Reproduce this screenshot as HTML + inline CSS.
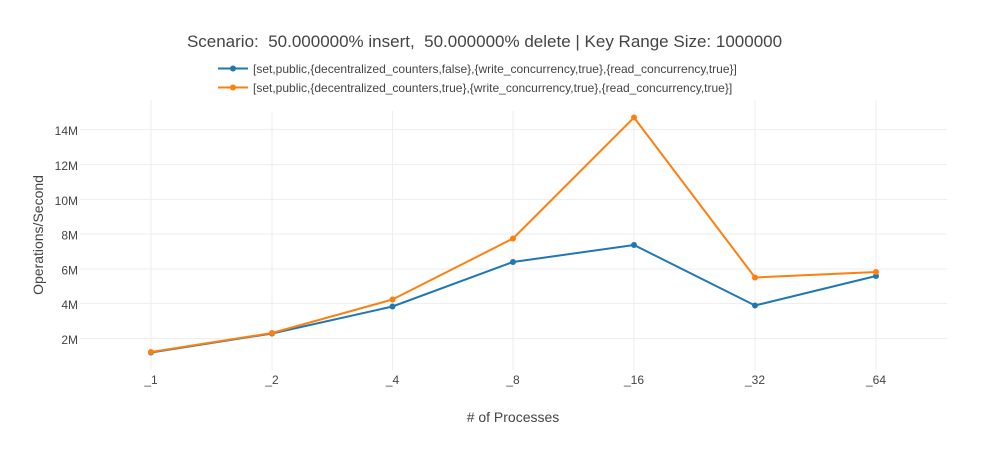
<!DOCTYPE html>
<html><head><meta charset="utf-8"><style>
html,body{margin:0;padding:0;background:#fff;}
svg{display:block;font-family:"Liberation Sans",Arial,sans-serif;}
</style></head><body>
<svg width="991" height="450" viewBox="0 0 991 450" xmlns="http://www.w3.org/2000/svg">
<rect width="991" height="450" fill="#fff"/>
<g stroke="#eeeeee" stroke-width="1">
<line x1="151" y1="100" x2="151" y2="370"/>
<line x1="272" y1="100" x2="272" y2="370"/>
<line x1="392.5" y1="100" x2="392.5" y2="370"/>
<line x1="513" y1="100" x2="513" y2="370"/>
<line x1="634" y1="100" x2="634" y2="370"/>
<line x1="755" y1="100" x2="755" y2="370"/>
<line x1="876" y1="100" x2="876" y2="370"/>
<line x1="80" y1="129.5" x2="947" y2="129.5"/>
<line x1="80" y1="164.5" x2="947" y2="164.5"/>
<line x1="80" y1="199.5" x2="947" y2="199.5"/>
<line x1="80" y1="234" x2="947" y2="234"/>
<line x1="80" y1="269" x2="947" y2="269"/>
<line x1="80" y1="303.5" x2="947" y2="303.5"/>
<line x1="80" y1="338.5" x2="947" y2="338.5"/>
</g>
<rect x="212" y="58" width="530" height="53" fill="#fff"/>
<g fill="#444" font-size="12" text-anchor="end">
<text x="78" y="135">14M</text>
<text x="78" y="170">12M</text>
<text x="78" y="205">10M</text>
<text x="78" y="239.5">8M</text>
<text x="78" y="274.5">6M</text>
<text x="78" y="309">4M</text>
<text x="78" y="344">2M</text>
</g>
<g fill="#444" font-size="12" text-anchor="middle">
<text x="151" y="384">_1</text>
<text x="272" y="384">_2</text>
<text x="392.5" y="384">_4</text>
<text x="513" y="384">_8</text>
<text x="634" y="384">_16</text>
<text x="755" y="384">_32</text>
<text x="876" y="384">_64</text>
</g>
<text x="513" y="422" fill="#444" font-size="14" text-anchor="middle"># of Processes</text>
<text transform="translate(43,235) rotate(-90)" fill="#444" font-size="14" text-anchor="middle">Operations/Second</text>
<text x="484.5" y="47" fill="#444" font-size="17" text-anchor="middle" xml:space="preserve">Scenario:  50.000000% insert,  50.000000% delete | Key Range Size: 1000000</text>
<polyline fill="none" stroke="#1f77b4" stroke-width="2" points="151,352.5 272,333.5 392.5,306.5 513,262 634,245 755,305.5 876,276"/>
<g fill="#1f77b4">
<circle cx="151" cy="352.5" r="3"/><circle cx="272" cy="333.5" r="3"/><circle cx="392.5" cy="306.5" r="3"/><circle cx="513" cy="262" r="3"/><circle cx="634" cy="245" r="3"/><circle cx="755" cy="305.5" r="3"/><circle cx="876" cy="276" r="3"/>
</g>
<polyline fill="none" stroke="#ff7f0e" stroke-width="2" points="151,352 272,333 392.5,299.5 513,238.5 634,117.5 755,277.5 876,272"/>
<g fill="#ff7f0e">
<circle cx="151" cy="352" r="3"/><circle cx="272" cy="333" r="3"/><circle cx="392.5" cy="299.5" r="3"/><circle cx="513" cy="238.5" r="3"/><circle cx="634" cy="117.5" r="3"/><circle cx="755" cy="277.5" r="3"/><circle cx="876" cy="272" r="3"/>
</g>
<line x1="218" y1="68.5" x2="248" y2="68.5" stroke="#1f77b4" stroke-width="2"/>
<circle cx="233" cy="68.5" r="3" fill="#1f77b4"/>
<line x1="218" y1="87.5" x2="248" y2="87.5" stroke="#ff7f0e" stroke-width="2"/>
<circle cx="233" cy="87.5" r="3" fill="#ff7f0e"/>
<g fill="#444" font-size="12">
<text x="253" y="73">[set,public,{decentralized_counters,false},{write_concurrency,true},{read_concurrency,true}]</text>
<text x="253" y="92">[set,public,{decentralized_counters,true},{write_concurrency,true},{read_concurrency,true}]</text>
</g>
</svg>
</body></html>
